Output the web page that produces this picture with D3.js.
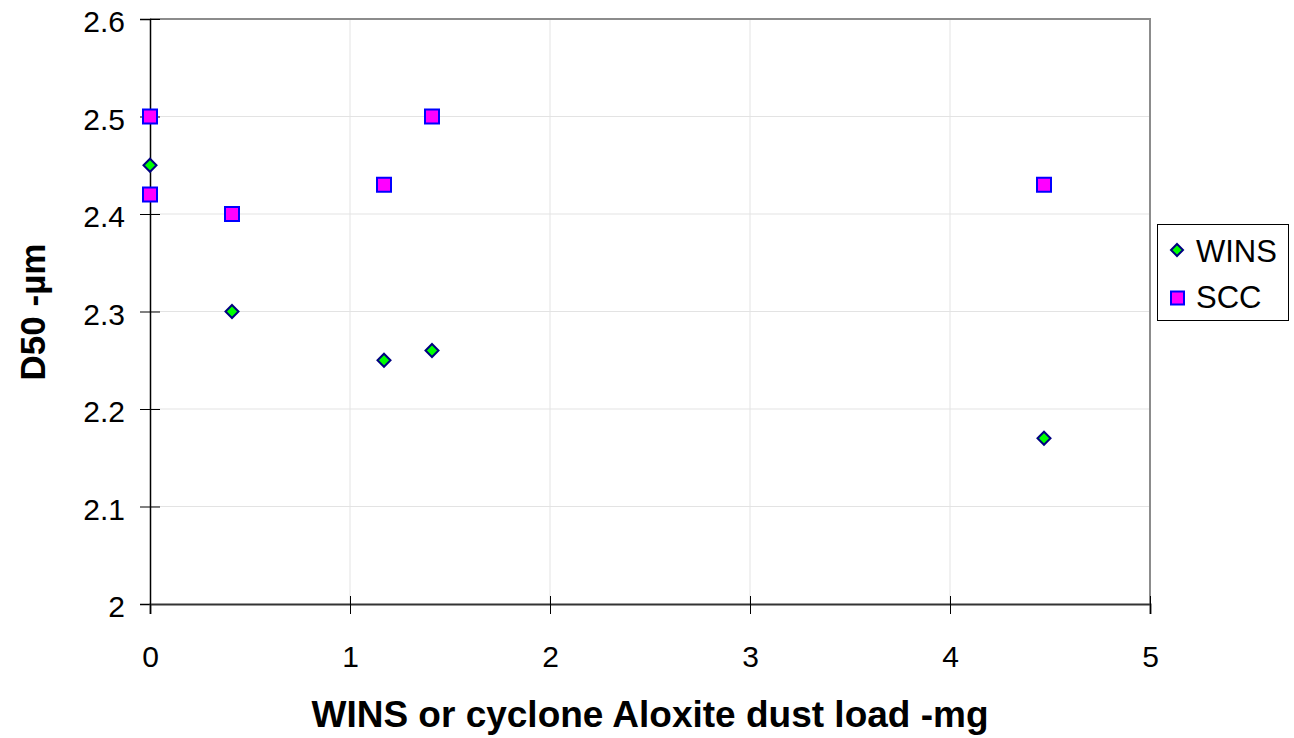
<!DOCTYPE html>
<html><head><meta charset="utf-8">
<script src="https://cdn.jsdelivr.net/npm/d3@7"></script>
<style>body{margin:0;background:#fff}svg{display:block}text{font-family:"Liberation Sans",Arial,sans-serif}</style>
</head><body><svg id="c" width="1294" height="738"></svg>
<script>
const winsX = [0, 0.41, 1.17, 1.41, 4.47];
const winsY = [2.45, 2.30, 2.25, 2.26, 2.17];
const sccX = [0, 0, 0.41, 1.17, 1.41, 4.47];
const sccY = [2.50, 2.42, 2.40, 2.43, 2.50, 2.43];
const xTicks = [0, 1, 2, 3, 4, 5];
const yTicks = [2, 2.1, 2.2, 2.3, 2.4, 2.5, 2.6];
const xTitle = "WINS or cyclone Aloxite dust load -mg";
const yTitle = "D50 -µm";
const seriesNames = ["WINS", "SCC"];

const svg = d3.select("#c");
const L = 150, R = 1150, T = 19, B = 604;
const x = d3.scaleLinear().domain([0, 5]).range([L, R]);
const y = d3.scaleLinear().domain([2, 2.6]).range([B, T]);

// grid
svg.append("g").selectAll("line").data(yTicks.slice(1, -1)).join("line")
  .attr("x1", L).attr("x2", R).attr("y1", d => y(d)).attr("y2", d => y(d))
  .attr("stroke", "#e3e3e3").attr("stroke-width", 1);
svg.append("g").selectAll("line").data(xTicks.slice(1, -1)).join("line")
  .attr("y1", T).attr("y2", B).attr("x1", d => x(d)).attr("x2", d => x(d))
  .attr("stroke", "#e3e3e3").attr("stroke-width", 1);
// top/right border
svg.append("path").attr("d", `M${L},${T}H${R}V${B}`).attr("fill", "none")
  .attr("stroke", "#8c8c8c").attr("stroke-width", 2);

// axes
const yAxis = svg.append("g").attr("transform", `translate(${L},0)`)
  .call(d3.axisLeft(y).tickValues(yTicks).tickSize(10).tickPadding(15).tickFormat(d3.format("")));
yAxis.select(".domain").attr("stroke", "#000").attr("stroke-width", 1.5);
yAxis.selectAll(".tick line").attr("x1", 10).attr("x2", -10).attr("stroke", "#000");
yAxis.selectAll("text").style("font-size", "30px").attr("fill", "#000").attr("dy", "0.42em");

const xAxis = svg.append("g").attr("transform", `translate(0,${B})`)
  .call(d3.axisBottom(x).tickValues(xTicks).tickSize(10).tickPadding(32).tickFormat(d3.format("")));
xAxis.select(".domain").attr("stroke", "#333").attr("stroke-width", 2);
xAxis.selectAll(".tick line").attr("y1", -8).attr("y2", 10).attr("stroke", "#000");
xAxis.selectAll("text").style("font-size", "30px").attr("fill", "#000");

// titles
svg.append("text").attr("x", 650).attr("y", 727).attr("text-anchor", "middle")
  .style("font-size", "37px").attr("font-weight", "bold").text(xTitle);
svg.append("text").attr("transform", `translate(45,${312}) rotate(-90)`).attr("text-anchor", "middle")
  .style("font-size", "35px").attr("font-weight", "bold").text(yTitle);

// markers
const diamond = (cx, cy, r) => `M${cx},${cy - r}L${cx + r},${cy}L${cx},${cy + r}L${cx - r},${cy}Z`;
svg.append("g").selectAll("path").data(winsX.map((v, i) => [v, winsY[i]])).join("path")
  .attr("d", d => diamond(x(d[0]), y(d[1]), 6.5))
  .attr("fill", "#00ff00").attr("stroke", "#000080").attr("stroke-width", 2);
svg.append("g").selectAll("rect").data(sccX.map((v, i) => [v, sccY[i]])).join("rect")
  .attr("x", d => x(d[0]) - 7).attr("y", d => y(d[1]) - 7).attr("width", 14).attr("height", 14)
  .attr("fill", "#ff00ff").attr("stroke", "#0000ff").attr("stroke-width", 2);

// legend
const lg = svg.append("g");
lg.append("rect").attr("x", 1157.5).attr("y", 224.5).attr("width", 131).attr("height", 96)
  .attr("fill", "#fff").attr("stroke", "#000").attr("stroke-width", 1);
lg.append("path").attr("d", diamond(1177, 250, 6)).attr("fill", "#00ff00").attr("stroke", "#000080").attr("stroke-width", 2);
lg.append("text").attr("x", 1196).attr("y", 262).style("font-size", "31px").text(seriesNames[0]);
lg.append("rect").attr("x", 1171).attr("y", 291.5).attr("width", 13).attr("height", 13)
  .attr("fill", "#ff00ff").attr("stroke", "#0000ff").attr("stroke-width", 2);
lg.append("text").attr("x", 1196).attr("y", 308).style("font-size", "31px").text(seriesNames[1]);
</script></body></html>
